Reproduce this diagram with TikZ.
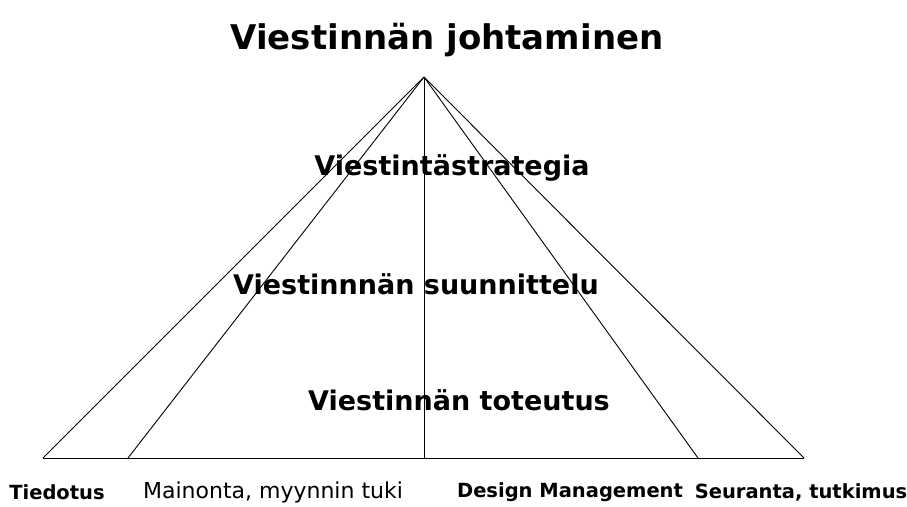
\documentclass[tikz,border=0pt]{standalone}
\usepackage{fontspec}
\setmainfont{DejaVu Sans}
\usepackage{tikz}

\begin{document}
\begin{tikzpicture}[
  x=1pt, y=1pt,
  every path/.style={line width=0.9pt},
  title/.style={font=\fontsize{34}{40}\selectfont\bfseries},
  level/.style={font=\fontsize{27}{32}\selectfont\bfseries},
  area/.style={font=\fontsize{19.5}{23}\selectfont\bfseries},
  arealight/.style={font=\fontsize{22}{26}\selectfont}
  ]
  \useasboundingbox (0,0) rectangle (907,506);

  % apex and base points
  \coordinate (apex) at (424,429);
  \coordinate (b1) at (43,48);
  \coordinate (b2) at (128,48);
  \coordinate (b3) at (424,48);
  \coordinate (b4) at (698,48);
  \coordinate (b5) at (804,48);

  \draw (b1) -- (b5);
  \foreach \b in {b1,b2,b3,b4,b5}
    \draw (apex) -- (\b);

  \node[title] (johto) at (447,466) {Viestinnän johtaminen};
  \node[level] (strategia) at (452,338) {Viestintästrategia};
  \node[level] (suunnittelu) at (416,222) {Viestinnnän suunnittelu};
  \node[level] (toteutus) at (459,106) {Viestinnän toteutus};

  \node[area] (tiedotus) at (57,14) {Tiedotus};
  \node[arealight] (mainonta) at (273,14) {Mainonta, myynnin tuki};
  \node[area] (design) at (570,14) {Design Management};
  \node[area] (seuranta) at (801,14) {Seuranta, tutkimus};
\end{tikzpicture}
\end{document}
